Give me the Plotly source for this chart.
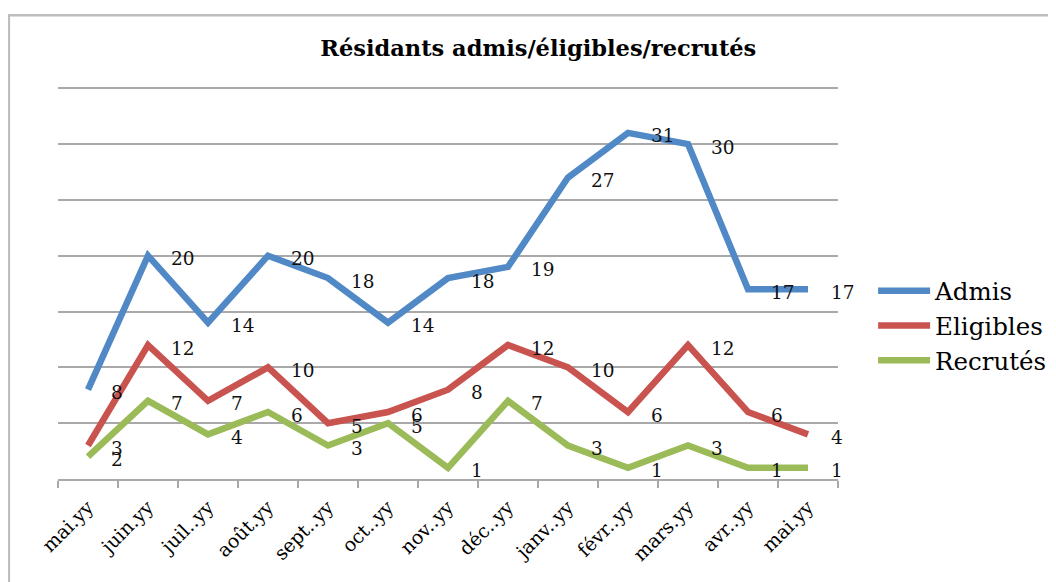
import plotly.graph_objects as go

months = ["mai.yy", "juin.yy", "juil..yy", "août.yy", "sept..yy", "oct..yy", "nov..yy",
          "déc..yy", "janv..yy", "févr..yy", "mars.yy", "avr..yy", "mai.yy"]
admis = [8, 20, 14, 20, 18, 14, 18, 19, 27, 31, 30, 17, 17]
eligibles = [3, 12, 7, 10, 5, 6, 8, 12, 10, 6, 12, 6, 4]
recrutes = [2, 7, 4, 6, 3, 5, 1, 7, 3, 1, 3, 1, 1]

series = [
    ("Admis", admis, "#5089C6"),
    ("Eligibles", eligibles, "#C9534F"),
    ("Recrutés", recrutes, "#9BBB59"),
]

xs = list(range(len(months)))
grid = "#A9A9A9"
serif = "DejaVu Serif"

fig = go.Figure()

for name, vals, color in series:
    fig.add_trace(go.Scatter(
        x=xs, y=vals, name=name, mode="lines",
        line=dict(color=color, width=6.5),
        hovertemplate=name + ": %{y}<extra></extra>"
    ))
    # data labels to the right of each point, like Excel
    for x, v in zip(xs, vals):
        fig.add_annotation(
            x=x, y=v, text=str(v), showarrow=False,
            xanchor="left", yanchor="middle", xshift=21, yshift=-3,
            font=dict(family=serif, size=18.5, color="#111111")
        )

# chart frame (left/top edges visible, rest runs off the picture)
fig.add_shape(type="rect", xref="paper", yref="paper",
              x0=-0.063, x1=1.5, y0=-0.6, y1=1.18,
              line=dict(color="#BEBEBE", width=2.5), layer="below")

fig.update_layout(
    width=1048, height=574,
    margin=dict(l=50, r=218, t=78, b=103, autoexpand=False),
    paper_bgcolor="white", plot_bgcolor="white",
    title=dict(text="<b>Résidants admis/éligibles/recrutés</b>",
               x=0.506, xanchor="center", y=0.93, yanchor="middle",
               font=dict(family=serif, size=22.5, color="black")),
    xaxis=dict(
        range=[-0.5, len(months) - 0.5],
        tickmode="array", tickvals=xs, ticktext=months,
        tickangle=-45, ticks="", ticklabelstandoff=8,
        tickfont=dict(family=serif, size=19, color="black"),
        showgrid=False, zeroline=False,
        showline=True, linecolor=grid, linewidth=1.5,
        minor=dict(tickmode="linear", tick0=-0.5, dtick=1, ticks="outside",
                   ticklen=7, tickcolor=grid, tickwidth=1.5, showgrid=False),
    ),
    yaxis=dict(
        range=[0, 35.2], dtick=5, showticklabels=False, ticks="",
        showgrid=True, gridcolor=grid, gridwidth=1.5,
        zeroline=False, showline=False,
    ),
    legend=dict(
        x=1.045, xanchor="left", y=0.39, yanchor="middle",
        font=dict(family=serif, size=24.5, color="black"),
        itemwidth=52, tracegroupgap=0, bgcolor="rgba(0,0,0,0)",
    ),
    showlegend=True,
)

fig.write_html("out.html")
